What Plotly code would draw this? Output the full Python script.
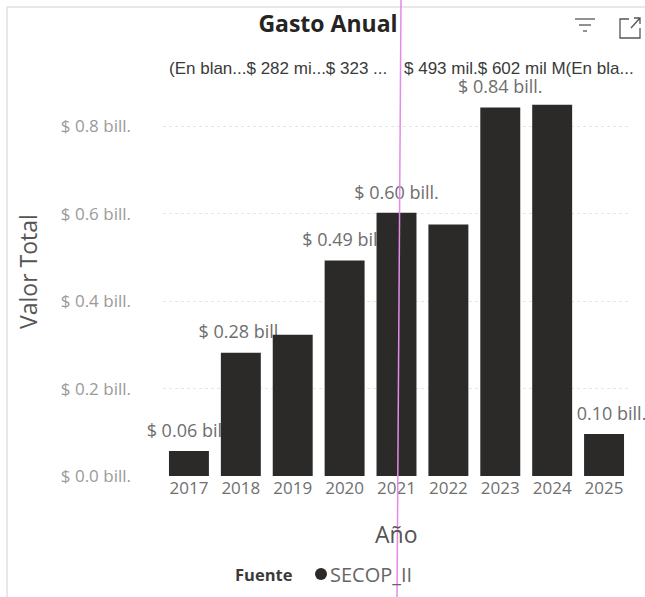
import plotly.graph_objects as go

# ---- data ----
years = [2017, 2018, 2019, 2020, 2021, 2022, 2023, 2024, 2025]
valor_total = [0.057, 0.282, 0.323, 0.493, 0.602, 0.575, 0.843, 0.849, 0.096]
bar_labels = ["$ 0.06 bill.", "$ 0.28 bill.", "", "$ 0.49 bill.", "$ 0.60 bill.", "",
              "$ 0.84 bill.", "", "$ 0.10 bill."]
top_labels = ["(En blan...", "$ 282 mi...", "$ 323 ...", "$ 493 mil.", "$ 602 mil M", "(En bla..."]
y_ticks = [0, 0.2, 0.4, 0.6, 0.8]
y_tick_text = ["$ 0.0 bill.", "$ 0.2 bill.", "$ 0.4 bill.", "$ 0.6 bill.", "$ 0.8 bill."]
series_name = "SECOP_II"
legend_title = "Fuente"
chart_title = "Gasto Anual"
x_title = "Año"
y_title = "Valor Total"

# ---- layout helpers (pixel -> paper) ----
W, H = 645, 597
ML, MR, MT, MB = 163, 15, 65, 121
PW, PH = W - ML - MR, H - MT - MB
Y_MAX = 0.94


def px(x):
    return (x - ML) / PW


def py(y):
    return (H - MB - y) / PH


FONT = "Segoe UI, Open Sans, sans-serif"
BAR_COLOR = "#2b2a29"

fig = go.Figure()
# data labels (drawn underneath the bars so neighbouring bars can cover them)
fig.add_trace(go.Scatter(
    x=years, y=valor_total, text=bar_labels, mode="markers+text",
    textposition="top center", cliponaxis=False,
    marker=dict(size=14, opacity=0, color=BAR_COLOR),
    textfont=dict(color="#6e6e6e", size=18, family=FONT),
    showlegend=False, hoverinfo="skip",
))
fig.add_trace(go.Bar(
    x=years, y=valor_total, name=series_name, yaxis="y2",
    marker=dict(color=BAR_COLOR, line=dict(width=0)),
    showlegend=False, hoverinfo="x+y",
))

annotations = []
# top overflow labels
annotations.append(dict(x=px(167), xref="paper", y=py(68), yref="paper",
                        text="".join(top_labels[:3]), showarrow=False,
                        xanchor="left", yanchor="middle",
                        font=dict(size=17, color="#3a3a3a", family="Liberation Sans, Arial")))
annotations.append(dict(x=px(402), xref="paper", y=py(68), yref="paper",
                        text="".join(top_labels[3:]), showarrow=False,
                        xanchor="left", yanchor="middle",
                        font=dict(size=17, color="#3a3a3a", family="Liberation Sans, Arial")))
# axis titles
annotations.append(dict(x=px(27.5), xref="paper", y=py(271.5), yref="paper",
                        text=y_title, textangle=-90, showarrow=False,
                        xanchor="center", yanchor="middle",
                        font=dict(size=23, color="#555555", family=FONT)))
annotations.append(dict(x=px(396), xref="paper", y=py(534), yref="paper",
                        text=x_title, showarrow=False, xanchor="center", yanchor="middle",
                        font=dict(size=23, color="#555555", family=FONT)))
# legend
annotations.append(dict(x=px(233), xref="paper", y=py(574), yref="paper",
                        text=f"<b>{legend_title}</b>", showarrow=False,
                        xanchor="left", yanchor="middle",
                        font=dict(size=16.5, color="#3a3a3a", family=FONT)))
annotations.append(dict(x=px(328), xref="paper", y=py(574), yref="paper",
                        text=series_name, showarrow=False,
                        xanchor="left", yanchor="middle",
                        font=dict(size=20, color="#666666", family=FONT)))

shapes = []
# legend dot
shapes.append(dict(type="circle", xref="paper", yref="paper",
                   x0=px(315), x1=px(327), y0=py(580), y1=py(568),
                   fillcolor=BAR_COLOR, line=dict(width=0)))
# frame lines (left and top)
shapes.append(dict(type="line", xref="paper", yref="paper", x0=px(7), x1=px(7),
                   y0=py(7), y1=py(597), line=dict(color="#d2d2d2", width=1)))
shapes.append(dict(type="line", xref="paper", yref="paper", x0=px(7), x1=px(645),
                   y0=py(7), y1=py(7), line=dict(color="#d2d2d2", width=1)))
# filter icon
for (x0, x1, yy) in [(575, 595, 19), (579, 591, 25), (583, 587, 31)]:
    shapes.append(dict(type="line", xref="paper", yref="paper", x0=px(x0), x1=px(x1),
                       y0=py(yy), y1=py(yy), line=dict(color="#555555", width=1.3)))


def pth(points):
    return "M " + " L ".join(f"{px(a)},{py(b)}" for a, b in points)


# focus icon
shapes.append(dict(type="path", xref="paper", yref="paper",
                   path=pth([(629, 19), (620, 19), (620, 38), (640, 38), (640, 28)]),
                   line=dict(color="#555555", width=1.3)))
shapes.append(dict(type="path", xref="paper", yref="paper",
                   path=pth([(631, 28), (640, 18)]) + " " + pth([(634, 18), (640, 18), (640, 24)]),
                   line=dict(color="#555555", width=1.3)))
# magenta vertical line
shapes.append(dict(type="path", xref="paper", yref="paper",
                   path=pth([(401, 0), (397, 597)]),
                   line=dict(color="#e58ae8", width=1.5)))

axis_common = dict(showline=False, zeroline=False, ticks="")
fig.update_layout(
    width=W, height=H,
    margin=dict(l=ML, r=MR, t=MT, b=MB, autoexpand=False),
    paper_bgcolor="white", plot_bgcolor="white",
    font=dict(family=FONT, color="#666666"),
    bargap=0.23, showlegend=False,
    title=dict(text=f"<b>{chart_title}</b>", x=px(328), xref="paper", xanchor="center",
               y=1 - 24 / H, yref="container", yanchor="middle",
               font=dict(size=23, color="#252423", family=FONT)),
    xaxis=dict(
        range=[2016.5, 2025.5], tickvals=years, ticktext=[str(y) for y in years],
        tickfont=dict(size=17, color="#707070"), showgrid=False, **axis_common,
    ),
    yaxis=dict(
        range=[0, Y_MAX], tickvals=y_ticks, ticktext=y_tick_text,
        tickfont=dict(size=17, color="#9a9a9a"), showgrid=True, gridcolor="#e6e6e6",
        griddash="dot", ticklabelstandoff=31, **axis_common,
    ),
    yaxis2=dict(range=[0, Y_MAX], overlaying="y", visible=False, showgrid=False),
    annotations=annotations,
    shapes=shapes,
)

fig.write_html(
    "out.html",
    config={"displayModeBar": False},
    post_script="document.body.style.margin='0';document.body.style.overflow='hidden';",
)
